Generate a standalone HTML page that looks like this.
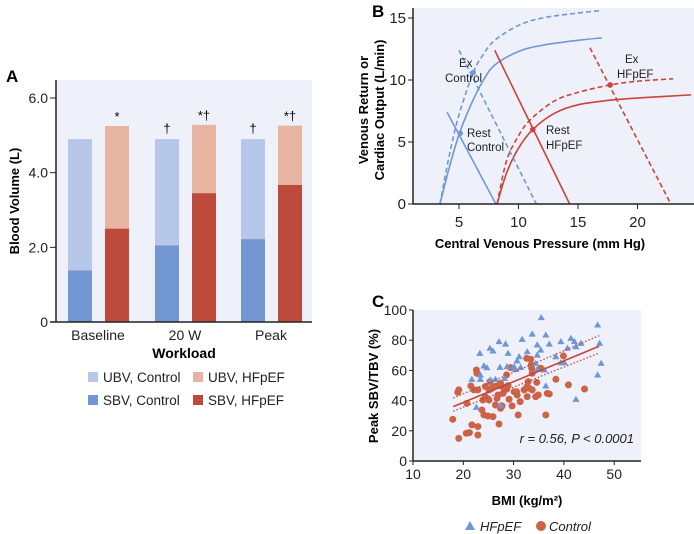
<!DOCTYPE html>
<html><head><meta charset="utf-8"><style>
body{margin:0;background:#fff;}
svg{display:block;font-family:"Liberation Sans",sans-serif;}
</style></head><body>
<svg id="fig" width="694" height="534" viewBox="0 0 694 534">
<g id="pa"></g>
<g id="pb"></g>
<g id="pc"></g>
</svg>
<script>
// Panel A data
const aCats=["Baseline","20 W","Peak"];
const ctrlTotal=[4.9,4.9,4.9];
const ctrlSBV=[1.38,2.05,2.22];
const hfTotal=[5.25,5.28,5.26];
const hfSBV=[2.5,3.45,3.67];
const ctrlMark=["","†","†"];
const hfMark=["*","*†","*†"];
const aTicks=[0,2,4,6];
const aTickLabels=["0","2.0","4.0","6.0"];
// Panel B data
const bXTicks=[5,10,15,20];
const bYTicks=[0,5,10,15];
const coCtrlRest=[[3.4,0],[4.2,3],[5,5.6],[6,8],[7,9.9],[8,11.2],[10,12.3],[12,12.8],[15,13.2],[17,13.4]];
const coCtrlEx=[[3.4,0],[4.2,4],[5,7.2],[6.2,10.6],[7,12],[8,13.2],[10,14.4],[12,15],[15,15.4],[17,15.6]];
const coHfRest=[[8.2,0],[9,2.5],[10,4.5],[11.2,6],[13,7.3],[15,8],[18,8.4],[21,8.6],[24.5,8.8]];
const coHfEx=[[8.2,0],[9,3.5],[10,5.5],[11,6.8],[13,8.3],[15,9],[17.7,9.6],[20,9.9],[23,10.1]];
const vrCtrlRest=[[4,7.4],[8.1,0]];
const vrCtrlEx=[[5,12.4],[11.5,0]];
const vrHfRest=[[8,12.4],[14.3,0]];
const vrHfEx=[[16,12.6],[22.8,0]];
const bPoints=[[5.1,5.7,"b"],[6.2,10.6,"b"],[11.2,6,"r"],[17.7,9.6,"r"]];
// Panel C data
const cXTicks=[10,20,30,40,50];
const cYTicks=[0,20,40,60,80,100];
const triBMI=[35.5,46.7,33.7,36.4,31.7,27.1,28.4,41.4,42.1,39.4,47.1,43.4,37.1,34.7,25.3,25.9,23.3,28.9,35.4,42.4,40.7,32.7,31.1,34.7,38.4,39.4,30.7,28.7,30.1,24.1,24.7,27.3,31.4,30.4,28.2,23.4,21.7,23.4,26.4,36.1,36.4,47.4,46.7,42.4,22.6,27.4,40.1,25.4,34.7,34.4];
const triPct=[95.0,90.1,84.1,83.5,80.6,79.1,77.5,81.3,79.1,79.1,78.0,78.0,77.5,76.9,74.7,72.9,71.3,71.3,73.5,75.7,74.7,72.4,69.1,70.2,69.1,65.1,66.3,62.5,62.5,63.0,61.8,62.1,62.1,60.7,54.8,57.0,54.1,54.1,54.1,60.3,49.7,64.7,57.0,40.9,35.6,37.1,65.1,53.7,60.7,64.7];
const cirBMI=[17.9,19.1,19.1,18.9,20.6,21.2,20.7,21.7,22.9,22.9,21.5,22.6,22.7,22.9,23.7,23.9,24.1,24.4,24.9,25.1,25.3,25.9,25.7,26.4,26.7,26.7,26.9,27.1,27.4,27.7,27.9,28.6,28.6,28.9,29.1,29.4,29.7,30.6,30.7,30.9,31.3,32.1,32.6,32.7,32.9,33.1,33.4,33.5,33.6,33.7,34.4,34.6,34.9,35.4,36.4,36.7,37.1,38.4,39.9,40.9,44.1,24.4,30.1,27.7,26.2,22.1,32.7,33.7,27.4,25.1];
const cirPct=[27.6,15.0,47.1,45.5,18.4,18.8,38.2,23.9,22.8,17.2,49.7,60.3,58.1,47.1,33.8,40.4,30.5,49.3,29.8,40.4,52.6,29.4,48.2,37.1,49.7,41.5,43.7,24.5,34.9,36.5,44.8,47.5,57.0,49.9,40.9,61.8,36.5,45.9,43.7,30.5,39.3,47.1,68.0,42.6,52.6,48.2,67.4,63.6,61.4,58.1,42.6,52.1,43.7,61.4,30.5,44.8,44.4,54.1,69.6,50.4,47.7,42.6,45.9,49.3,49.3,47.1,49.3,47.1,51.5,47.1];
const fitLine=[[18,36],[47,76]];
const ciUpper=[[18,41.7],[47,83]];
const ciLower=[[18,33],[47,71.5]];

const NS="http://www.w3.org/2000/svg";
function mk(parent,tag,attrs,txt){const e=document.createElementNS(NS,tag);for(const k in attrs)e.setAttribute(k,attrs[k]);if(txt!==undefined)e.textContent=txt;parent.appendChild(e);return e;}

// ---------- Panel A ----------
const pa=document.getElementById('pa');
const ay=v=>322-v*(224/6);
let e;
e=mk(pa,'rect',{x:56,y:80,width:256,height:242,fill:'#eef1f9'});


e=mk(pa,'text',{x:6,y:82,'font-size':17,'font-weight':'bold'},'A');


aTicks.forEach((t,i)=>{
  e=mk(pa,'text',{x:48,y:ay(t)+5,'font-size':14,'text-anchor':'end',fill:'#222'},aTickLabels[i]);
  
  
  mk(pa,'line',{x1:50,x2:56,y1:ay(t),y2:ay(t),stroke:'#222','stroke-width':1});
});
const groupLeft=[68,155,241];
aCats.forEach((c,i)=>{
  const bx=groupLeft[i], rx=bx+37;
  e=mk(pa,'rect',{x:bx,y:ay(ctrlTotal[i]),width:24,height:ay(ctrlSBV[i])-ay(ctrlTotal[i]),fill:'#b6c7ea'});
  
  
  e=mk(pa,'rect',{x:bx,y:ay(ctrlSBV[i]),width:24,height:ay(0)-ay(ctrlSBV[i]),fill:'#7196d1'});
  
  
  e=mk(pa,'rect',{x:rx,y:ay(hfTotal[i]),width:24,height:ay(hfSBV[i])-ay(hfTotal[i]),fill:'#e6b4a0'});
  
  
  e=mk(pa,'rect',{x:rx,y:ay(hfSBV[i]),width:24,height:ay(0)-ay(hfSBV[i]),fill:'#bd4a3a'});
  
  
  if(ctrlMark[i]){e=mk(pa,'text',{x:bx+12,y:ay(ctrlTotal[i])-6,'font-size':13,'text-anchor':'middle'},ctrlMark[i]);
  
  }
  e=mk(pa,'text',{x:rx+12,y:ay(hfTotal[i])-5,'font-size':13,'text-anchor':'middle'},hfMark[i]);
  
  
  e=mk(pa,'text',{x:bx+30,y:340,'font-size':14,'text-anchor':'middle',fill:'#222'},c);
  
  
});
mk(pa,'line',{x1:56,x2:56,y1:80,y2:322,stroke:'#222','stroke-width':1.5});
mk(pa,'line',{x1:50,x2:312,y1:322,y2:322,stroke:'#222','stroke-width':1.5});
e=mk(pa,'text',{x:184,y:358,'font-size':14,'font-weight':'bold','text-anchor':'middle'},'Workload');


e=mk(pa,'text',{x:0,y:0,'font-size':13,'font-weight':'bold','text-anchor':'middle',transform:'translate(19,201) rotate(-90)'},'Blood Volume (L)');


const leg=[[88,377,'#b6c7ea','UBV, Control'],[193,377,'#e6b4a0','UBV, HFpEF'],[88,400,'#7196d1','SBV, Control'],[193,400,'#bd4a3a','SBV, HFpEF']];
leg.forEach(l=>{
  e=mk(pa,'g',{});
  
  
  mk(e,'rect',{x:l[0],y:l[1]-5,width:10,height:10,fill:l[2]});
  mk(e,'text',{x:l[0]+15,y:l[1]+5,'font-size':13.5,fill:'#222'},l[3]);
});

// ---------- Panel B ----------
const pb=document.getElementById('pb');
const bx=v=>399.5+v*11.9, by=v=>204-v*12.4;
e=mk(pb,'rect',{x:413,y:8,width:281,height:196,fill:'#eef1f9'});


e=mk(pb,'text',{x:372,y:17,'font-size':17,'font-weight':'bold'},'B');


function curve(pts){
  const P=pts.map(p=>[bx(p[0]),by(p[1])]);
  let d='M'+P[0][0]+','+P[0][1];
  for(let i=0;i<P.length-1;i++){
    const p0=P[Math.max(0,i-1)],p1=P[i],p2=P[i+1],p3=P[Math.min(P.length-1,i+2)];
    const c1=[p1[0]+(p2[0]-p0[0])/6,p1[1]+(p2[1]-p0[1])/6];
    const c2=[p2[0]-(p3[0]-p1[0])/6,p2[1]-(p3[1]-p1[1])/6];
    d+=' C'+c1+' '+c2+' '+p2;
  }
  return d;
}
const curves=[[coCtrlRest,'#6f98d8',0,'co-control-rest'],[coCtrlEx,'#6f98d8',1,'co-control-exercise'],[coHfRest,'#c9443a',0,'co-hfpef-rest'],[coHfEx,'#c9443a',1,'co-hfpef-exercise'],
[vrCtrlRest,'#6f98d8',0,'vr-control-rest'],[vrCtrlEx,'#6f98d8',1,'vr-control-exercise'],[vrHfRest,'#c9443a',0,'vr-hfpef-rest'],[vrHfEx,'#c9443a',1,'vr-hfpef-exercise']];
curves.forEach(c=>{
  e=mk(pb,'path',{d:curve(c[0]),fill:'none',stroke:c[1],'stroke-width':1.6,'stroke-dasharray':c[2]?'5,3':'none'});
  
  
});
bPoints.forEach(p=>{
  e=mk(pb,'circle',{cx:bx(p[0]),cy:by(p[1]),r:2.8,fill:p[2]=='b'?'#6f98d8':'#c9443a'});
  
  
});
const bl=[[459,67,'Ex'],[445,82,'Control'],[467,137,'Rest'],[467,151,'Control'],[546,134,'Rest'],[546,149,'HFpEF'],[625,63,'Ex'],[617,78,'HFpEF']];
bl.forEach(l=>{e=mk(pb,'text',{x:l[0],y:l[1],'font-size':11.5,fill:'#222'},l[2]);

});
bXTicks.forEach(t=>{
  mk(pb,'line',{x1:bx(t),x2:bx(t),y1:204,y2:209,stroke:'#222'});
  e=mk(pb,'text',{x:bx(t),y:227,'font-size':15,'text-anchor':'middle',fill:'#222'},String(t));
  
  
});
bYTicks.forEach(t=>{
  mk(pb,'line',{x1:408,x2:413,y1:by(t),y2:by(t),stroke:'#222'});
  e=mk(pb,'text',{x:406,y:by(t)+5,'font-size':15,'text-anchor':'end',fill:'#222'},String(t));
  
  
});
mk(pb,'line',{x1:413,x2:413,y1:8,y2:204,stroke:'#222','stroke-width':1.5});
mk(pb,'line',{x1:413,x2:694,y1:204,y2:204,stroke:'#222','stroke-width':1.5});
e=mk(pb,'text',{x:540,y:248,'font-size':13,'font-weight':'bold','text-anchor':'middle'},'Central Venous Pressure (mm Hg)');


e=mk(pb,'text',{x:0,y:0,'font-size':13,'font-weight':'bold','text-anchor':'middle',transform:'translate(368,110) rotate(-90)'},'Venous Return or');


e=mk(pb,'text',{x:0,y:0,'font-size':13,'font-weight':'bold','text-anchor':'middle',transform:'translate(384,110) rotate(-90)'},'Cardiac Output (L/min)');



// ---------- Panel C ----------
const pc=document.getElementById('pc');
const cx=v=>413+(v-10)*5.03, cy=v=>461-v*1.51;
e=mk(pc,'rect',{x:413,y:310,width:228,height:151,fill:'#eef1f9'});


e=mk(pc,'text',{x:372,y:307,'font-size':17,'font-weight':'bold'},'C');


cirBMI.forEach((b,i)=>{
  e=mk(pc,'circle',{cx:cx(b),cy:cy(cirPct[i]),r:3.5,fill:'#cc6347'});
  
  
});
triBMI.forEach((b,i)=>{
  const x=cx(b),y=cy(triPct[i]);
  e=mk(pc,'polygon',{points:`${x},${y-3.6} ${x-3.6},${y+2.6} ${x+3.6},${y+2.6}`,fill:'#6f96d6'});
  
  
});
e=mk(pc,'line',{x1:cx(fitLine[0][0]),y1:cy(fitLine[0][1]),x2:cx(fitLine[1][0]),y2:cy(fitLine[1][1]),stroke:'#c9443a','stroke-width':1.6});


[ciUpper,ciLower].forEach(c=>{
  e=mk(pc,'line',{x1:cx(c[0][0]),y1:cy(c[0][1]),x2:cx(c[1][0]),y2:cy(c[1][1]),stroke:'#c9443a','stroke-width':1.3,'stroke-dasharray':'1.5,2'});
  
  
});
e=mk(pc,'text',{x:634,y:443,'font-size':13,'font-style':'italic','text-anchor':'end',fill:'#222'},'r = 0.56, P < 0.0001');


cXTicks.forEach(t=>{
  mk(pc,'line',{x1:cx(t),x2:cx(t),y1:461,y2:465,stroke:'#222'});
  e=mk(pc,'text',{x:cx(t),y:479,'font-size':14,'text-anchor':'middle',fill:'#222'},String(t));
  
  
});
cYTicks.forEach(t=>{
  mk(pc,'line',{x1:409,x2:413,y1:cy(t),y2:cy(t),stroke:'#222'});
  e=mk(pc,'text',{x:407,y:cy(t)+5,'font-size':14,'text-anchor':'end',fill:'#222'},String(t));
  
  
});
mk(pc,'line',{x1:413,x2:413,y1:310,y2:461,stroke:'#222','stroke-width':1.5});
mk(pc,'line',{x1:413,x2:641,y1:461,y2:461,stroke:'#222','stroke-width':1.5});
e=mk(pc,'text',{x:527,y:505,'font-size':13,'font-weight':'bold','text-anchor':'middle'},'BMI (kg/m²)');


e=mk(pc,'text',{x:0,y:0,'font-size':13,'font-weight':'bold','text-anchor':'middle',transform:'translate(378,386) rotate(-90)'},'Peak SBV/TBV (%)');


e=mk(pc,'g',{});


mk(e,'polygon',{points:'470,521 465,530 475,530',fill:'#6f96d6'});
mk(e,'text',{x:480,y:531,'font-size':13,'font-style':'italic',fill:'#222'},'HFpEF');
e=mk(pc,'g',{});


mk(e,'circle',{cx:541,cy:526,r:5,fill:'#cc6347'});
mk(e,'text',{x:549,y:531,'font-size':13,'font-style':'italic',fill:'#222'},'Control');
</script>
</body></html>
